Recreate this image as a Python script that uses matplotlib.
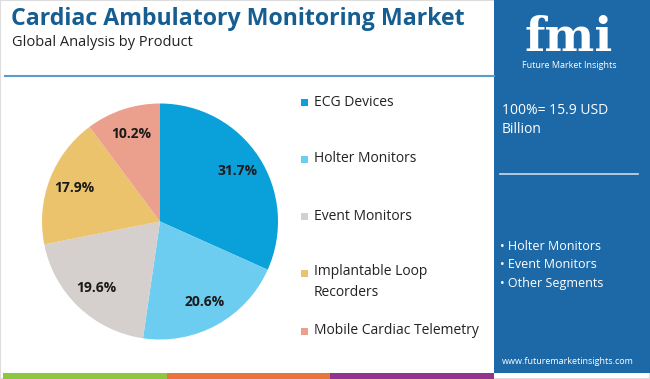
import matplotlib
matplotlib.use("Agg")
import matplotlib.pyplot as plt
from matplotlib.patches import Rectangle
from matplotlib.lines import Line2D

categories = ["ECG Devices", "Holter Monitors", "Event Monitors",
              "Implantable Loop\nRecorders", "Mobile Cardiac Telemetry"]
values = [31.7, 20.6, 19.6, 17.9, 10.2]
colors = ["#0AA0DA", "#6DCDF1", "#D5CFCD", "#EBC36C", "#EAA08D"]
bullets = ["Holter Monitors", "Event Monitors", "Other Segments"]

W, H = 650, 379
plt.rcParams['font.family'] = ['Open Sans', 'DejaVu Sans']
fig = plt.figure(figsize=(W/100, H/100), dpi=100)
fig.patch.set_facecolor("white")

def fx(x): return x / W
def fy(y): return 1 - y / H

# frame
fig.add_artist(Rectangle((0, 0), 1, 1, transform=fig.transFigure, fill=False,
                         edgecolor="#DDDDDD", lw=1.5))

# title
fig.text(fx(11), fy(19), "Cardiac Ambulatory Monitoring Market", fontsize=16.7,
         fontweight="bold", color="#165E92", va="center", ha="left")
fig.text(fx(12), fy(42), "Global Analysis by Product", fontsize=10.5,
         color="#222222", va="center", ha="left")
fig.add_artist(Line2D([fx(5), fx(494)], [fy(76), fy(76)], transform=fig.transFigure,
                      color="#5B9CC9", lw=1.5))

# right panel
fig.add_artist(Rectangle((fx(494), fy(373)), fx(650) - fx(494), fy(0) - fy(373),
                         transform=fig.transFigure, facecolor="#1D69A7",
                         edgecolor="none"))
fig.text(fx(569), fy(38), "fmi", fontsize=34, fontweight="bold", color="white",
         ha="center", va="center", family=["DejaVu Serif"])
fig.text(fx(569), fy(66), "Future Market Insights", fontsize=6.5, color="white",
         ha="center", va="center")
fig.text(fx(502), fy(111), "100%= 15.9 USD", fontsize=10, color="white",
         ha="left", va="center")
fig.text(fx(502), fy(130), "Billion", fontsize=10, color="white",
         ha="left", va="center")
fig.add_artist(Line2D([fx(500), fx(638)], [fy(174), fy(174)], transform=fig.transFigure,
                      color="#C9DBEA", lw=1.2))
for i, b in enumerate(bullets):
    fig.text(fx(500), fy(247 + 18 * i), "\u2022 " + b, fontsize=9, color="white",
             ha="left", va="center")
fig.text(fx(568), fy(362), "www.futuremarketinsights.com", fontsize=6.5,
         color="white", ha="center", va="center")

# bottom stripes
for x0, x1, c in [(3, 167, "#8DC63F"), (167, 330, "#E8743B"), (330, 494, "#93338E")]:
    fig.add_artist(Rectangle((fx(x0), fy(379)), fx(x1) - fx(x0), fy(373) - fy(379),
                             transform=fig.transFigure, facecolor=c, edgecolor="none"))

# pie
cx, cy, r = 160, 221.5, 118
ax = fig.add_axes([fx(cx - r), fy(cy + r), 2 * r / W, 2 * r / H])
wedges, texts, autotexts = ax.pie(values, colors=colors, startangle=90, counterclock=False,
                                  autopct="%.1f%%", pctdistance=0.78,
                                  wedgeprops=dict(edgecolor="none"))
for t in autotexts:
    t.set_fontsize(10)
    t.set_fontweight("bold")
    t.set_color("#1A1A1A")
ax.set_aspect("equal")
ax.set_xlim(-1, 1)
ax.set_ylim(-1, 1)

# legend
ly = [102, 159, 216, 273, 331]
for y, c, lab in zip(ly, colors, categories):
    fig.add_artist(Rectangle((fx(301), fy(y + 4)), 7 / W, 7 / H, transform=fig.transFigure,
                             facecolor=c, edgecolor="none"))
    if "\n" in lab:
        fig.text(fx(314), fy(y - 9), lab, fontsize=10, color="#222222", ha="left",
                 va="top", linespacing=1.5)
    else:
        fig.text(fx(314), fy(y), lab, fontsize=10, color="#222222", ha="left",
                 va="center")

fig.savefig("out.png", dpi=100, facecolor="white")
